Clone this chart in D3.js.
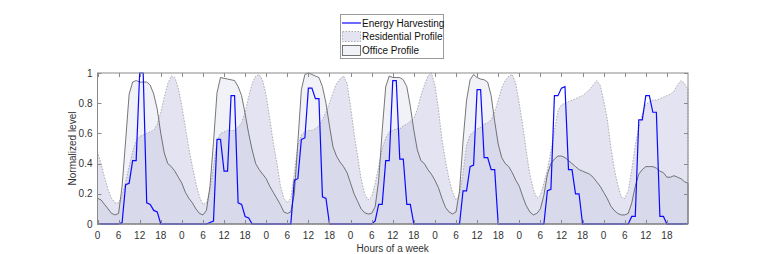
<!DOCTYPE html>
<html>
<head>
<meta charset="utf-8">
<script src="https://cdn.jsdelivr.net/npm/d3@7"></script>
<style>
  body { margin: 0; background: #fff; }
  text { font-family: "Liberation Sans", Arial, sans-serif; }
</style>
</head>
<body>
<script>
// hourly values over one week (index = hour 0..168)
var energyHarvesting = [
  0, 0, 0, 0, 0, 0, 0, 0.01, 0.26, 0.27, 0.42, 0.42, 1.0, 1.0, 0.14, 0.13, 0.09, 0.08, 0, 0, 0, 0, 0, 0,
  0, 0, 0, 0, 0, 0, 0, 0, 0.01, 0.02, 0.56, 0.56, 0.35, 0.35, 0.85, 0.85, 0.14, 0.13, 0.05, 0.04, 0, 0, 0, 0,
  0, 0, 0, 0, 0, 0, 0, 0, 0.29, 0.30, 0.56, 0.57, 0.90, 0.90, 0.83, 0.83, 0.18, 0.17, 0, 0, 0, 0, 0, 0,
  0, 0, 0, 0, 0, 0, 0, 0.02, 0.13, 0.13, 0.42, 0.42, 0.95, 0.95, 0.43, 0.43, 0.13, 0.13, 0, 0, 0, 0, 0, 0,
  0, 0, 0, 0, 0, 0, 0, 0, 0.22, 0.22, 0.38, 0.39, 0.89, 0.89, 0.44, 0.44, 0.36, 0.36, 0, 0, 0, 0, 0, 0,
  0, 0, 0, 0, 0, 0, 0, 0, 0.22, 0.23, 0.85, 0.85, 0.90, 0.91, 0.36, 0.36, 0.20, 0.20, 0, 0, 0, 0, 0, 0,
  0, 0, 0, 0, 0, 0, 0, 0, 0.05, 0.05, 0.69, 0.69, 0.85, 0.85, 0.74, 0.74, 0.05, 0.05, 0, 0, 0, 0, 0, 0,
  0
];

var residentialProfile = [
  0.48, 0.40, 0.31, 0.23, 0.17, 0.14, 0.14, 0.19, 0.28, 0.38, 0.48, 0.55, 0.58, 0.59, 0.60, 0.61, 0.62, 0.66, 0.74, 0.84, 0.93, 0.98, 0.97, 0.90,
  0.78, 0.64, 0.50, 0.38, 0.27, 0.18, 0.13, 0.14, 0.22, 0.38, 0.55, 0.60, 0.61, 0.62, 0.62, 0.62, 0.64, 0.67, 0.74, 0.84, 0.93, 0.98, 0.99, 0.95,
  0.85, 0.70, 0.54, 0.41, 0.26, 0.17, 0.14, 0.17, 0.34, 0.52, 0.59, 0.61, 0.62, 0.62, 0.63, 0.65, 0.69, 0.74, 0.80, 0.87, 0.93, 0.96, 0.98, 0.93,
  0.78, 0.60, 0.45, 0.30, 0.20, 0.16, 0.18, 0.27, 0.38, 0.50, 0.57, 0.61, 0.62, 0.63, 0.63, 0.65, 0.66, 0.68, 0.70, 0.76, 0.85, 0.92, 0.98, 1.0,
  0.92, 0.76, 0.56, 0.42, 0.30, 0.21, 0.16, 0.19, 0.34, 0.52, 0.59, 0.61, 0.63, 0.64, 0.66, 0.67, 0.69, 0.74, 0.82, 0.90, 0.95, 0.98, 0.99, 0.93,
  0.80, 0.65, 0.48, 0.33, 0.23, 0.17, 0.19, 0.27, 0.36, 0.48, 0.62, 0.75, 0.79, 0.80, 0.81, 0.82, 0.83, 0.84, 0.85, 0.87, 0.89, 0.92, 0.95, 0.92,
  0.82, 0.70, 0.52, 0.37, 0.26, 0.18, 0.17, 0.22, 0.36, 0.52, 0.64, 0.73, 0.79, 0.81, 0.82, 0.82, 0.83, 0.84, 0.85, 0.86, 0.88, 0.92, 0.95, 0.93,
  0.89
];

var officeProfile = [
  0.17, 0.16, 0.13, 0.10, 0.07, 0.06, 0.07, 0.25, 0.55, 0.86, 0.94, 0.95, 0.94, 0.94, 0.94, 0.92, 0.86, 0.76, 0.60, 0.47, 0.40, 0.38, 0.35, 0.31,
  0.27, 0.21, 0.17, 0.14, 0.10, 0.07, 0.06, 0.09, 0.25, 0.54, 0.87, 0.97, 0.965, 0.96, 0.955, 0.95, 0.91, 0.85, 0.73, 0.60, 0.49, 0.40, 0.36, 0.33,
  0.30, 0.25, 0.21, 0.17, 0.13, 0.08, 0.07, 0.08, 0.20, 0.54, 0.89, 0.99, 1.0, 0.99, 0.98, 0.97, 0.91, 0.80, 0.65, 0.51, 0.45, 0.41, 0.38, 0.34,
  0.27, 0.20, 0.15, 0.10, 0.075, 0.066, 0.07, 0.115, 0.29, 0.62, 0.91, 0.98, 0.97, 0.97, 0.97, 0.955, 0.91, 0.78, 0.62, 0.49, 0.42, 0.40, 0.36, 0.33,
  0.29, 0.24, 0.17, 0.11, 0.08, 0.066, 0.08, 0.22, 0.55, 0.82, 0.955, 0.99, 0.97, 0.96, 0.955, 0.94, 0.85, 0.68, 0.53, 0.44, 0.40, 0.38, 0.34, 0.29,
  0.25, 0.18, 0.12, 0.08, 0.06, 0.07, 0.10, 0.19, 0.33, 0.40, 0.43, 0.45, 0.45, 0.44, 0.42, 0.40, 0.38, 0.36, 0.35, 0.34, 0.33, 0.31, 0.28, 0.25,
  0.21, 0.17, 0.12, 0.09, 0.07, 0.06, 0.06, 0.07, 0.14, 0.25, 0.33, 0.36, 0.38, 0.38, 0.38, 0.37, 0.35, 0.34, 0.31, 0.31, 0.32, 0.31, 0.30, 0.28,
  0.27
];

var xTickHours = [0, 6, 12, 18, 24, 30, 36, 42, 48, 54, 60, 66, 72, 78, 84, 90, 96, 102, 108, 114, 120, 126, 132, 138, 144, 150, 156, 162];
var xTickLabels = ["0", "6", "12", "18", "0", "6", "12", "18", "0", "6", "12", "18", "0", "6", "12", "18", "0", "6", "12", "18", "0", "6", "12", "18", "0", "6", "12", "18"];
var yTickValues = [0, 0.2, 0.4, 0.6, 0.8, 1];
var yTickLabels = ["0", "0.2", "0.4", "0.6", "0.8", "1"];

var width = 759, height = 254;
var plot = {left: 97.5, right: 688, top: 73, bottom: 224};
var axisColor = "#8a8a8a";

var svg = d3.select("body").append("svg")
    .attr("width", width)
    .attr("height", height);

var x = d3.scaleLinear().domain([0, 168]).range([plot.left, plot.right]);
var y = d3.scaleLinear().domain([0, 1]).range([plot.bottom, plot.top]);

// areas
var area = d3.area()
    .x(function(d, i) { return x(i); })
    .y0(y(0))
    .y1(function(d) { return y(d); });

svg.append("path")
    .datum(residentialProfile)
    .attr("d", area)
    .attr("fill", "#9999cc")
    .attr("fill-opacity", 0.27)
    .attr("stroke", "#9a9a9a")
    .attr("stroke-width", 0.8)
    .attr("stroke-dasharray", "1.5,1.5");

svg.append("path")
    .datum(officeProfile)
    .attr("d", area)
    .attr("fill", "#9999cc")
    .attr("fill-opacity", 0.14)
    .attr("stroke", "#555")
    .attr("stroke-width", 0.8);

// energy harvesting line
var line = d3.line()
    .x(function(d, i) { return x(i); })
    .y(function(d) { return y(d); });

svg.append("path")
    .datum(energyHarvesting)
    .attr("d", line)
    .attr("fill", "none")
    .attr("stroke", "#0a0aff")
    .attr("stroke-width", 1.2);

// axes box with inward ticks on all sides
var tickLen = 4;
var axes = svg.append("g").attr("stroke", axisColor).attr("stroke-width", 1);

axes.append("rect")
    .attr("x", plot.left).attr("y", plot.top)
    .attr("width", plot.right - plot.left)
    .attr("height", plot.bottom - plot.top)
    .attr("fill", "none");

xTickHours.forEach(function(h) {
  var px = Math.round(x(h)) + 0.5;
  axes.append("line").attr("x1", px).attr("x2", px).attr("y1", plot.bottom).attr("y2", plot.bottom - tickLen);
  axes.append("line").attr("x1", px).attr("x2", px).attr("y1", plot.top).attr("y2", plot.top + tickLen);
});
yTickValues.forEach(function(v) {
  var py = Math.round(y(v)) + 0.5;
  axes.append("line").attr("x1", plot.left).attr("x2", plot.left + tickLen).attr("y1", py).attr("y2", py);
  axes.append("line").attr("x1", plot.right).attr("x2", plot.right - tickLen).attr("y1", py).attr("y2", py);
});

// tick labels
svg.append("g").selectAll("text")
    .data(xTickHours)
    .enter().append("text")
    .attr("x", function(d) { return x(d); })
    .attr("y", 238.5)
    .attr("text-anchor", "middle")
    .attr("font-size", 10)
    .attr("fill", "#333")
    .text(function(d, i) { return xTickLabels[i]; });

svg.append("g").selectAll("text")
    .data(yTickValues)
    .enter().append("text")
    .attr("x", plot.left - 5)
    .attr("y", function(d) { return y(d) + 3.5; })
    .attr("text-anchor", "end")
    .attr("font-size", 10)
    .attr("fill", "#333")
    .text(function(d, i) { return yTickLabels[i]; });

// axis titles
svg.append("text")
    .attr("x", (plot.left + plot.right) / 2)
    .attr("y", 251.5)
    .attr("text-anchor", "middle")
    .attr("font-size", 10)
    .attr("fill", "#333")
    .text("Hours of a week");

svg.append("text")
    .attr("transform", "translate(76," + ((plot.top + plot.bottom) / 2) + ") rotate(-90)")
    .attr("text-anchor", "middle")
    .attr("font-size", 10)
    .attr("fill", "#333")
    .text("Normalized level");

// legend
var legend = svg.append("g");
legend.append("rect")
    .attr("x", 340.5).attr("y", 14.5)
    .attr("width", 103).attr("height", 44)
    .attr("fill", "#fff")
    .attr("stroke", "#999");

legend.append("line")
    .attr("x1", 342).attr("x2", 361).attr("y1", 23).attr("y2", 23)
    .attr("stroke", "#0a0aff").attr("stroke-width", 1.2);
legend.append("rect")
    .attr("x", 342.5).attr("y", 31.5).attr("width", 18).attr("height", 10)
    .attr("fill", "#9999cc").attr("fill-opacity", 0.27)
    .attr("stroke", "#9a9a9a").attr("stroke-width", 0.8).attr("stroke-dasharray", "1.5,1.5");
legend.append("rect")
    .attr("x", 342.5).attr("y", 45.5).attr("width", 18).attr("height", 10)
    .attr("fill", "#9999cc").attr("fill-opacity", 0.14)
    .attr("stroke", "#555").attr("stroke-width", 0.8);

var legendLabels = ["Energy Harvesting", "Residential Profile", "Office Profile"];
legend.selectAll("text.item")
    .data(legendLabels)
    .enter().append("text")
    .attr("class", "item")
    .attr("x", 362)
    .attr("y", function(d, i) { return 26.5 + i * 13.5; })
    .attr("font-size", 10)
    .attr("fill", "#111")
    .text(function(d) { return d; });
</script>
</body>
</html>
